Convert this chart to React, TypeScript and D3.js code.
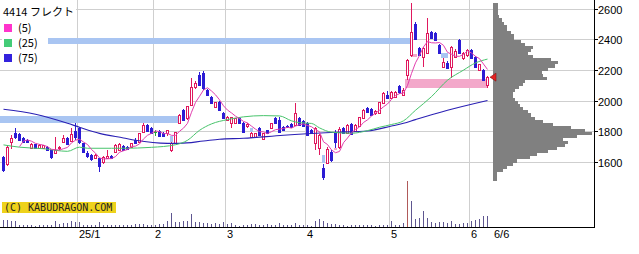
import React from "react";
import * as d3 from "d3";

// ---- data ----
const opens = [
  1634, 1590, 1735, 1790, 1785, 1758, 1750, 1693, 1718, 1693,
  1695, 1700, 1680, 1660, 1693, 1735, 1758, 1739, 1804, 1824,
  1725, 1665, 1648, 1627, 1627, 1601, 1630, 1640, 1667, 1680,
  1706, 1700, 1699, 1750, 1732, 1797, 1843, 1824, 1800, 1804,
  1790, 1791, 1680, 1725, 1856, 1941, 1889, 1974, 2092, 2170,
  2183, 2072, 2026, 1961, 1993, 1922, 1876, 1856, 1860, 1889,
  1856, 1835, 1765, 1768, 1824, 1755, 1810, 1824, 1889, 1880,
  1830, 1840, 1850, 1843, 1889, 1870, 1856, 1810, 1725, 1693,
  1565, 1600, 1667, 1797, 1700, 1824, 1791, 1850, 1804, 1837,
  1889, 1954, 1950, 1920, 1922, 1987, 2040, 2020, 2030, 2098,
  2040, 2170, 2301, 2503, 2346, 2288, 2314, 2451, 2444, 2366,
  2222, 2250, 2222, 2290, 2399, 2281, 2300, 2333, 2288, 2203,
  2203, 2105,
];
const highs = [
  1645, 1712, 1780, 1824, 1792, 1765, 1755, 1730, 1722, 1718,
  1716, 1708, 1684, 1765, 1710, 1778, 1765, 1824, 1856, 1830,
  1730, 1672, 1655, 1655, 1632, 1640, 1680, 1648, 1720, 1725,
  1712, 1708, 1730, 1758, 1795, 1860, 1850, 1830, 1815, 1810,
  1796, 1815, 1735, 1800, 1915, 1950, 1972, 2150, 2130, 2190,
  2195, 2080, 2032, 1998, 2000, 1928, 1905, 1898, 1893, 1895,
  1863, 1860, 1797, 1795, 1830, 1795, 1815, 1860, 1895, 1895,
  1836, 1846, 1855, 1987, 1895, 1876, 1863, 1816, 1830, 1785,
  1590, 1700, 1680, 1810, 1830, 1830, 1850, 1856, 1850, 1900,
  1948, 1960, 1956, 1940, 1998, 2058, 2065, 2066, 2066, 2105,
  2085, 2275, 2640, 2520, 2352, 2352, 2542, 2458, 2450, 2372,
  2281, 2260, 2360, 2338, 2405, 2320, 2340, 2340, 2295, 2246,
  2210, 2165,
];
const lows = [
  1540, 1580, 1690, 1755, 1740, 1725, 1725, 1685, 1685, 1688,
  1690, 1675, 1625, 1655, 1680, 1728, 1715, 1735, 1750, 1720,
  1660, 1632, 1612, 1620, 1536, 1590, 1625, 1620, 1660, 1675,
  1675, 1680, 1692, 1720, 1725, 1790, 1800, 1785, 1775, 1765,
  1772, 1775, 1670, 1718, 1850, 1870, 1880, 1968, 2080, 2100,
  2075, 2035, 1980, 1955, 1935, 1882, 1870, 1824, 1852, 1852,
  1790, 1824, 1758, 1762, 1772, 1745, 1785, 1818, 1850, 1790,
  1805, 1825, 1825, 1838, 1838, 1830, 1772, 1785, 1680, 1647,
  1488, 1595, 1605, 1693, 1690, 1785, 1785, 1780, 1798, 1830,
  1882, 1922, 1905, 1912, 1915, 1980, 2015, 2012, 2025, 2050,
  2035, 2137, 2290, 2398, 2295, 2222, 2305, 2405, 2392, 2314,
  2215, 2208, 2150, 2282, 2308, 2270, 2290, 2275, 2215, 2195,
  2130, 2085,
];
const closes = [
  1550, 1700, 1758, 1765, 1745, 1735, 1732, 1719, 1693, 1712,
  1712, 1680, 1634, 1680, 1700, 1758, 1720, 1784, 1765, 1732,
  1667, 1640, 1620, 1647, 1575, 1634, 1645, 1627, 1712, 1719,
  1680, 1685, 1725, 1725, 1791, 1843, 1804, 1791, 1800, 1771,
  1775, 1810, 1730, 1797, 1908, 1876, 1967, 2092, 2118, 2105,
  2085, 2040, 1987, 1993, 1941, 1889, 1900, 1895, 1889, 1860,
  1797, 1850, 1791, 1791, 1778, 1790, 1791, 1856, 1856, 1797,
  1810, 1830, 1830, 1922, 1843, 1835, 1778, 1790, 1824, 1778,
  1505, 1690, 1614, 1732, 1820, 1791, 1843, 1785, 1843, 1895,
  1941, 1928, 1910, 1935, 1993, 2052, 2020, 2059, 2059, 2059,
  2070, 2268, 2451, 2405, 2301, 2346, 2444, 2412, 2399, 2314,
  2255, 2215, 2353, 2330, 2314, 2314, 2333, 2281, 2222, 2240,
  2137, 2157,
];
const volumes = [
  70, 70, 65, 60, 20, 20, 20, 20, 15, 20,
  20, 20, 25, 65, 30, 45, 40, 65, 55, 55,
  25, 20, 20, 20, 55, 25, 20, 20, 20, 20,
  20, 25, 25, 30, 35, 30, 25, 20, 20, 30,
  30, 60, 145, 55, 55, 60, 60, 135, 50, 50,
  45, 40, 35, 40, 30, 50, 30, 40, 20, 15,
  20, 20, 35, 30, 20, 20, 30, 20, 20, 40,
  20, 20, 20, 40, 20, 20, 20, 15, 60, 85,
  60, 40, 30, 30, 25, 20, 15, 20, 20, 20,
  20, 20, 20, 15, 20, 20, 20, 65, 20, 20,
  40, 470, 260, 80, 90, 160, 90, 55, 40, 50,
  55, 45, 60, 30, 30, 40, 45, 60, 70, 80,
  110, 110,
];

const ma25Idx = [0, 4, 10, 16, 19, 21, 27, 30, 37, 43, 46, 49, 52, 56, 60, 65, 69, 72, 74, 77, 79, 82, 87, 91, 94, 97, 100, 103, 107, 111, 115, 118, 121];
const ma25Val = [1715, 1700, 1690, 1673, 1700, 1693, 1693, 1693, 1699, 1716, 1745, 1810, 1852, 1880, 1898, 1906, 1904, 1872, 1860, 1855, 1826, 1798, 1791, 1808, 1830, 1848, 1872, 1941, 2030, 2137, 2203, 2250, 2275];
const ma75Idx = [0, 8, 16, 19, 24, 30, 33, 41, 44, 50, 54, 60, 70, 83, 91, 97, 100, 103, 111, 121];
const ma75Val = [1948, 1915, 1856, 1830, 1790, 1760, 1745, 1725, 1725, 1740, 1752, 1758, 1778, 1797, 1806, 1838, 1856, 1880, 1941, 2005];

const monthStarts = [19, 38, 56, 76, 97, 117];
const monthLabels = ["25/1", "2", "3", "4", "5", "6"];
const lastLabel = "6/6";
const priceTicks = [1600, 1800, 2000, 2200, 2400, 2600];

const profileStart = 1480;
const profileStep = 20;
const profileVol = [
  4, 4, 4, 10, 14, 20, 24, 37, 44, 55,
  64, 72, 75, 70, 84, 99, 92, 78, 60, 50,
  42, 38, 35, 30, 27, 25, 22, 20, 20, 22,
  26, 30, 32, 54, 50, 49, 55, 62, 65, 58,
  40, 35, 38, 40, 32, 28, 21, 21, 18, 14,
  14, 11, 9, 6, 5, 5, 5, 5,
];

// zones: [fromIdx, toIdx, lowPrice, highPrice], kind
const zoneFrom = [-1, 10.9, 100.4, 41.6, 61.6, 79.6, 82.6, 101.9, 109.4];
const zoneTo = [43.6, 101.6, 121.2, 42.4, 62.4, 80.4, 83.4, 103.3, 111.2];
const zoneLo = [1858, 2375, 2085, 1735, 1797, 1595, 1680, 2290, 2281];
const zoneHi = [1905, 2410, 2142, 1775, 1824, 1647, 1693, 2305, 2314];
const zoneKind = ["down", "down", "up", "down", "down", "down", "up", "up", "down"];

const legendTitle = "4414 フレクト";
const legendItems = ["(5)", "(25)", "(75)"];
const copyright = "(C) KABUDRAGON.COM";

const UP = "#e0185e";
const DOWN = "#2c1cd4";
const DOJI = "#22aa33";
const MA5C = "#e23fae";
const MA25C = "#48c46c";
const MA75C = "#2a20b4";

export default function App() {
  const n = closes.length;
  const x = d3.scaleLinear().domain([0, n - 1]).range([3.5, 487.5]);
  const y = d3.scaleLinear().domain([1600, 2600]).range([162.5, 9.3]);
  const yVol = d3.scaleLinear().domain([0, 470]).range([227, 180.5]);
  const xProf = d3.scaleLinear().domain([0, 100]).range([493, 593]);
  const snap = (v: number) => Math.floor(v) + 0.5;

  const ma5: [number, number][] = [];
  closes.forEach((_, i) => {
    if (i >= 4) ma5.push([i, d3.mean(closes.slice(i - 4, i + 1)) as number]);
  });
  const lineLin = d3.line<[number, number]>().x((d) => x(d[0])).y((d) => y(d[1]));
  const lineSmooth = d3
    .line<[number, number]>()
    .x((d) => x(d[0]))
    .y((d) => y(d[1]))
    .curve(d3.curveMonotoneX);
  const ma25 = ma25Idx.map((i, k) => [i, ma25Val[k]] as [number, number]);
  const ma75 = ma75Idx.map((i, k) => [i, ma75Val[k]] as [number, number]);
  const maxVol = d3.max(volumes) as number;
  const lastY = y(closes[n - 1]);
  const axisX = 594.5;
  const axisY = 227.5;

  return (
    <svg
      width={639}
      height={254}
      style={{ position: "absolute", left: 0, top: 0, display: "block", background: "#fff" }}
    >
      <rect x={0} y={0} width={639} height={254} fill="#fff" />
      {/* grid */}
      <g stroke="#cfcfcf" strokeWidth={1} shapeRendering="crispEdges">
        {priceTicks.map((p) => (
          <line key={p} x1={0} x2={axisX} y1={snap(y(p))} y2={snap(y(p))} />
        ))}
        {monthStarts.map((m) => (
          <line key={m} x1={snap(x(m) - 2)} x2={snap(x(m) - 2)} y1={0} y2={axisY} />
        ))}
      </g>
      {/* zones */}
      <g shapeRendering="crispEdges">
        {zoneFrom.map((f, k) => (
          <rect
            key={k}
            x={x(f)}
            width={x(zoneTo[k]) - x(f)}
            y={y(zoneHi[k])}
            height={y(zoneLo[k]) - y(zoneHi[k])}
            fill={zoneKind[k] === "up" ? "#f3a8ca" : "#a9c5f2"}
          />
        ))}
      </g>
      {/* volume */}
      <g shapeRendering="crispEdges">
        {volumes.map((v, i) => (
          <line
            key={i}
            x1={x(i)}
            x2={x(i)}
            y1={axisY - 0.5}
            y2={yVol(v)}
            stroke={v === maxVol ? "#b05a5a" : "#5e5690"}
          />
        ))}
      </g>
      {/* candles */}
      <g shapeRendering="crispEdges">
        {closes.map((c, i) => {
          const o = opens[i];
          const cx = x(i);
          const col = c > o ? UP : c < o ? DOWN : DOJI;
          const top = Math.round(y(Math.max(o, c)));
          const bot = Math.round(y(Math.min(o, c)));
          return (
            <g key={i}>
              <line x1={cx} x2={cx} y1={y(highs[i])} y2={y(lows[i])} stroke={col} />
              {c === o ? (
                <line x1={cx - 1.5} x2={cx + 1.5} y1={top + 0.5} y2={top + 0.5} stroke={col} />
              ) : (
                <rect
                  x={cx - 1}
                  width={2}
                  y={top + 0.5}
                  height={Math.max(bot - top, 1)}
                  fill={c > o ? "#fff" : col}
                  stroke={col}
                />
              )}
            </g>
          );
        })}
      </g>
      {/* moving averages */}
      <path d={lineSmooth(ma75) || ""} fill="none" stroke={MA75C} strokeWidth={1.1} />
      <path d={lineSmooth(ma25) || ""} fill="none" stroke={MA25C} strokeWidth={1} />
      <path d={lineLin(ma5) || ""} fill="none" stroke={MA5C} strokeWidth={1} />
      {/* volume profile */}
      <g shapeRendering="crispEdges" fill="#808080">
        {profileVol.map((v, k) => {
          const p = profileStart + k * profileStep;
          const t = y(p + profileStep);
          const b = y(p);
          return <rect key={k} x={xProf(0)} width={xProf(v) - xProf(0)} y={t} height={b - t} />;
        })}
      </g>
      {/* last price marker */}
      <path
        d={`M${490},${lastY} L${496},${lastY - 4} L${496},${lastY + 4} Z`}
        fill="#e52222"
        stroke="#8a1010"
        strokeWidth={0.6}
      />
      {/* axes */}
      <g stroke="#000" shapeRendering="crispEdges">
        <line x1={axisX} x2={axisX} y1={0} y2={axisY} />
        <line x1={0} x2={axisX} y1={axisY} y2={axisY} />
        {priceTicks.map((p) => (
          <line key={p} x1={axisX} x2={axisX + 3} y1={snap(y(p))} y2={snap(y(p))} />
        ))}
      </g>
      <g fontFamily="'Liberation Sans', Arial, sans-serif" fontSize={11} fill="#000">
        {priceTicks.map((p) => (
          <text key={p} x={598} y={snap(y(p)) + 4}>
            {p}
          </text>
        ))}
        {monthStarts.map((m, k) => (
          <text key={m} x={Math.floor(x(m) - 2) + 2} y={238}>
            {monthLabels[k]}
          </text>
        ))}
        <text x={494} y={238}>
          {lastLabel}
        </text>
      </g>
      {/* legend */}
      <g fontFamily="'Noto Sans CJK JP', 'DejaVu Sans', sans-serif" fontSize={11} fill="#000">
        <rect x={0} y={2} width={76} height={17} fill="#fff" />
        <text x={3} y={16}>
          {legendTitle}
        </text>
        {legendItems.map((t, k) => (
          <g key={t}>
            <rect x={2} y={21 + k * 15} width={t.length * 7 + 18} height={13} fill="#fff" />
            <rect x={4} y={24 + k * 15} width={8} height={8} fill={["#ff33cc", "#44cc77", "#3322dd"][k]} />
            <text x={18} y={32 + k * 15}>
              {t}
            </text>
          </g>
        ))}
      </g>
      {/* copyright */}
      <rect x={2} y={202} width={114} height={11} fill="#eed21b" />
      <text x={4} y={211} fontFamily="'DejaVu Sans Mono', monospace" fontSize={10} fill="#222">
        {copyright}
      </text>
    </svg>
  );
}
